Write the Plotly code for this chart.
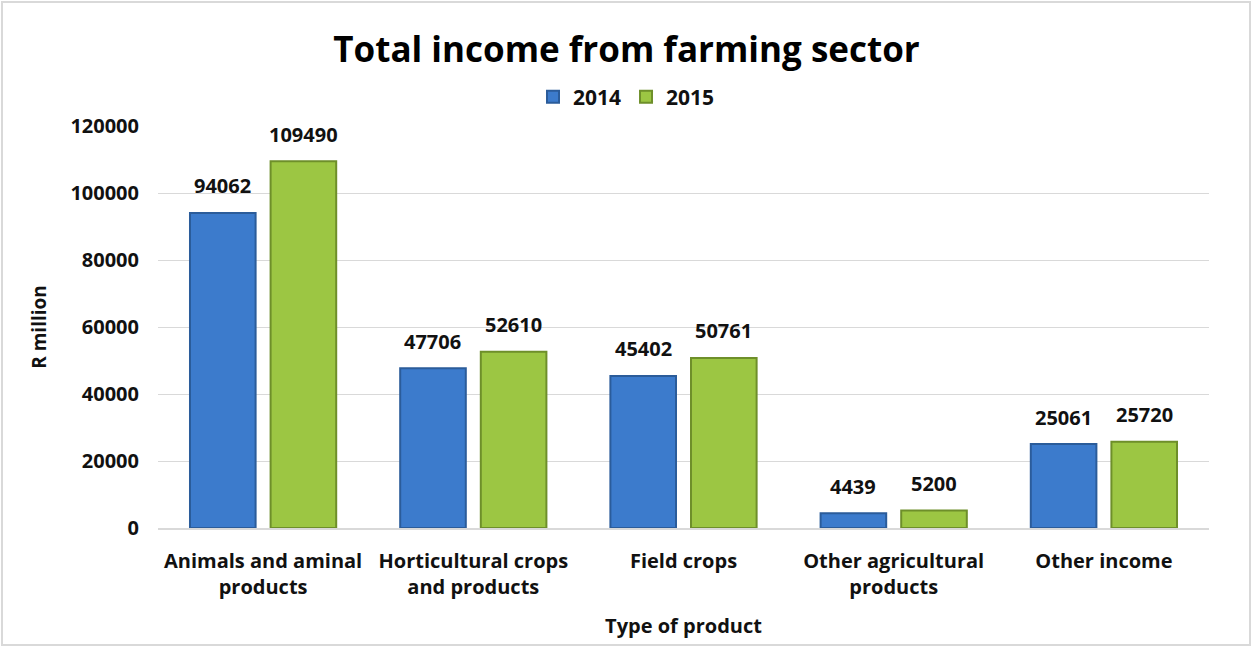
import plotly.graph_objects as go

categories = ["Animals and aminal<br>products", "Horticultural crops<br>and products",
              "Field crops", "Other agricultural<br>products", "Other income"]
series_names = ["2014", "2015"]
values_2014 = [94062, 47706, 45402, 4439, 25061]
values_2015 = [109490, 52610, 50761, 5200, 25720]
y_ticks = [0, 20000, 40000, 60000, 80000, 100000, 120000]

W, H = 1253, 648
ML, MR, MT, MB = 158, 44, 126, 120
FONT = "Open Sans"
BARGAP, GROUPGAP = 0.233, 0.186

fig = go.Figure()
fig.add_trace(go.Bar(
    name="<b>%s</b>" % series_names[0], x=categories, y=values_2014,
    marker=dict(color="#3C7BCC", line=dict(color="#2B5C9A", width=2)),
))
fig.add_trace(go.Bar(
    name="<b>%s</b>" % series_names[1], x=categories, y=values_2015,
    marker=dict(color="#9CC643", line=dict(color="#6E8F2A", width=2)),
))

# value labels above each bar, shifted to the centre of its bar within the group
pw = W - ML - MR
ph = H - MT - MB
slot = pw / len(categories) * (1 - BARGAP) / 2
for series, sign in ((values_2014, -1), (values_2015, 1)):
    for cat, val in zip(categories, series):
        fig.add_annotation(
            x=cat, y=val, xref="x", yref="y",
            text="<b>%d</b>" % val, showarrow=False,
            xshift=sign * slot / 2, yshift=27, yanchor="middle",
            font=dict(family=FONT, size=20, color="#111111"),
        )

# light grey frame around the whole chart
fig.add_shape(type="rect", xref="paper", yref="paper",
              x0=(2 - ML) / pw, x1=(W - 3 - ML) / pw,
              y0=-(H - 3 - MT - ph) / ph, y1=1 + (MT - 2) / ph,
              line=dict(color="#D9D9D9", width=2), layer="below")

fig.update_layout(
    width=W, height=H,
    margin=dict(l=ML, r=MR, t=MT, b=MB),
    paper_bgcolor="white", plot_bgcolor="white",
    font=dict(family=FONT, color="#111111"),
    title=dict(text="<b>Total income from farming sector</b>",
               x=0.5, xanchor="center", y=1 - 50 / H, yanchor="middle",
               font=dict(family=FONT, size=35, color="#000000")),
    barmode="group", bargap=BARGAP, bargroupgap=GROUPGAP,
    showlegend=True,
    legend=dict(orientation="h", x=(W / 2 - ML) / pw, xanchor="center",
                y=1 + 29 / ph, yanchor="middle",
                font=dict(family=FONT, size=21, color="#111111"),
                traceorder="normal", itemwidth=30, tracegroupgap=0),
    xaxis=dict(
        title=dict(text="<b>Type of product</b>", font=dict(family=FONT, size=20), standoff=20),
        tickfont=dict(family=FONT, size=20, color="#111111"),
        showline=True, linecolor="#D9D9D9", linewidth=2,
        ticks="", showgrid=False, ticklabelstandoff=14,
        tickvals=categories,
        ticktext=["<b>" + c.replace("<br>", "</b><br><b>") + "</b>" for c in categories],
    ),
    yaxis=dict(
        title=dict(text="<b>R million</b>", font=dict(family=FONT, size=19), standoff=18),
        range=[0, 120000], tickvals=y_ticks,
        ticktext=["<b>%d</b>" % v for v in y_ticks],
        tickfont=dict(family=FONT, size=20, color="#111111"),
        showgrid=True, gridcolor="#D9D9D9", gridwidth=1,
        zeroline=False, ticks="", ticklabelstandoff=18,
    ),
)

fig.write_html("out.html")
